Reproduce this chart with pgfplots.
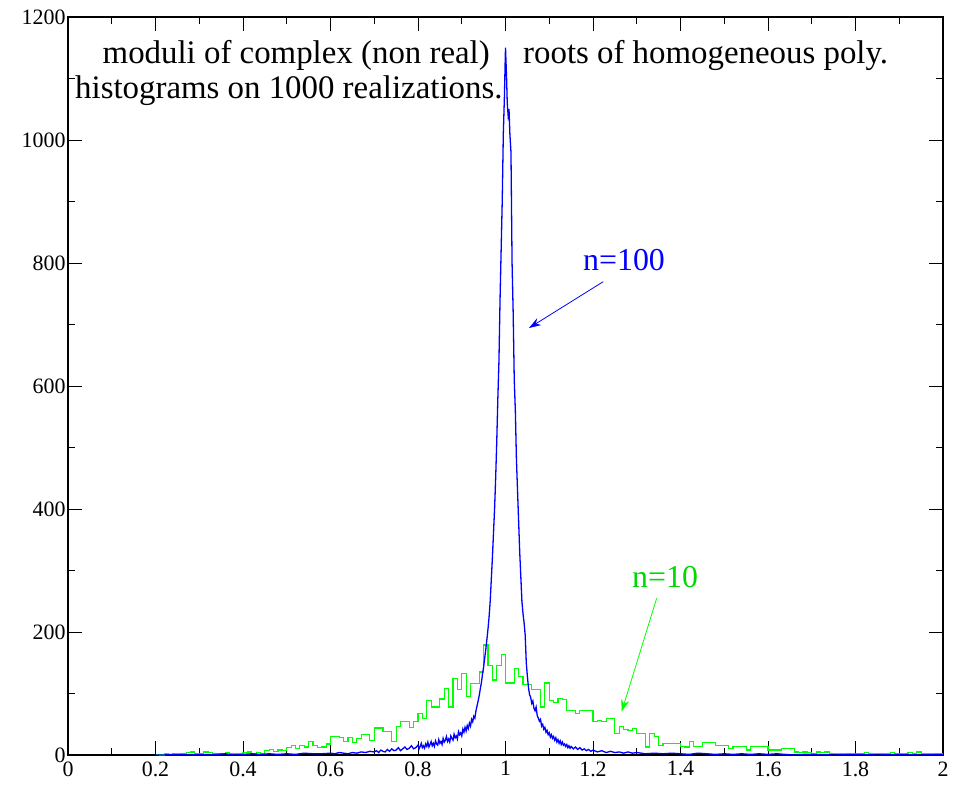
\documentclass[border=0pt]{standalone}
\usepackage{fontspec}
\setmainfont{Liberation Serif}
\usepackage{pgfplots}
\pgfplotsset{compat=1.18}
\usetikzlibrary{arrows.meta,calc}
\definecolor{grn}{rgb}{0,1,0}
\definecolor{grntxt}{rgb}{0,0.85,0}
\begin{document}
\begin{tikzpicture}
\begin{axis}[
  scale only axis, width=875bp, height=738bp,
  xmin=0, xmax=2, ymin=0, ymax=1200,
  xtick={0,0.2,...,2.01}, ytick={0,200,...,1200},
  minor x tick num=1, minor y tick num=1,
  tick align=inside,
  major tick length=14bp, minor tick length=7bp,
  axis line style={line width=1.4bp},
  every tick/.style={black, line width=0.8bp},
  /pgf/number format/assume math mode=true,
  /pgf/number format/1000 sep={},
  xticklabel={\pgfmathprintnumber{\tick}},
  yticklabel={\pgfmathprintnumber{\tick}},
  tick label style={font=\fontsize{22}{22}\selectfont},
  xticklabel style={yshift=-3bp},
  yticklabel style={xshift=1bp},
]
\addplot[grn, line width=1.2bp, const plot mark left] coordinates {
(0.20,1)(0.21,0)(0.22,2)(0.23,1)(0.24,2)(0.25,3)(0.26,2)(0.27,4)(0.28,5)(0.29,3)
(0.30,2)(0.31,5)(0.32,4)(0.33,3)(0.34,3)(0.35,2)(0.36,4)(0.37,3)(0.38,2)(0.39,3)
(0.40,4)(0.41,5)(0.42,3)(0.43,4)(0.44,3)(0.45,7)(0.46,9)(0.47,6)(0.48,8)(0.49,7)
(0.50,12)(0.51,16)(0.52,10)(0.53,16)(0.54,13)(0.55,22)(0.56,15)(0.57,12)(0.58,13)(0.59,18)
(0.60,30)(0.61,30)(0.62,28)(0.63,22)(0.64,28)(0.65,20)(0.66,27)(0.67,33)(0.68,33)(0.69,24)
(0.70,44)(0.71,44)(0.72,38)(0.73,38)(0.74,22)(0.75,46)(0.76,54)(0.77,54)(0.78,45)(0.79,55)
(0.80,68)(0.81,60)(0.82,89)(0.83,78)(0.84,78)(0.85,91)(0.86,108)(0.87,78)(0.88,125)(0.89,106)
(0.90,133)(0.91,95)(0.92,116)(0.93,116)(0.94,135)(0.95,179)(0.96,145)(0.97,122)(0.98,146)(0.99,163)
(1.00,117)(1.01,117)(1.02,141)(1.03,127)(1.04,114)(1.05,114)(1.06,106)(1.07,106)(1.08,78)(1.09,117)
(1.10,89)(1.11,86)(1.12,92)(1.13,90)(1.14,73)(1.15,73)(1.16,67)(1.17,73)(1.18,73)(1.19,73)
(1.20,54)(1.21,56)(1.22,54)(1.23,60)(1.24,60)(1.25,35)(1.26,46)(1.27,41)(1.28,40)(1.29,43)
(1.30,35)(1.31,35)(1.32,13)(1.33,35)(1.34,30)(1.35,16)(1.36,19)(1.37,19)(1.38,19)(1.39,19)
(1.40,14)(1.41,13)(1.42,22)(1.43,14)(1.44,14)(1.45,20)(1.46,20)(1.47,20)(1.48,16)(1.49,16)
(1.50,16)(1.51,11)(1.52,14)(1.53,14)(1.54,14)(1.55,8)(1.56,14)(1.57,14)(1.58,14)(1.59,14)
(1.60,8)(1.61,8)(1.62,8)(1.63,11)(1.64,11)(1.65,11)(1.66,5)(1.67,4)(1.68,5)(1.69,4)
(1.70,3)(1.71,5)(1.72,4)(1.73,5)(1.74,3)(1.75,2)(1.76,3)(1.77,2)(1.78,3)(1.79,2)
(1.80,3)(1.81,2)(1.82,4)(1.83,3)(1.84,2)(1.85,2)(1.86,3)(1.87,2)(1.88,4)(1.89,3)
(1.90,2)(1.91,3)(1.92,4)(1.93,3)(1.94,5)(1.95,2)(1.96,2)(1.97,3)(1.98,2)(1.99,3)(2.00,3)
};
\addplot[blue, line width=1.3bp] coordinates {
(0.20,0)(0.22,0)(0.24,1)(0.25,0)(0.26,1)(0.28,0)(0.30,1)(0.32,0)(0.34,1)(0.36,2)
(0.38,0)(0.40,1)(0.42,2)(0.44,1)(0.46,2)(0.48,1)(0.50,2)(0.52,1)(0.54,3)(0.56,2)
(0.58,2)(0.60,3)(0.61,2)(0.62,4)(0.63,3)(0.64,2)(0.65,4)(0.66,3)(0.67,5)(0.68,4)(0.69,6)
(0.700,5)(0.705,7)(0.710,4)(0.715,8)(0.720,6)(0.725,5)(0.730,9)(0.735,6)(0.740,10)(0.745,7)
(0.750,8)(0.755,12)(0.760,7)(0.765,10)(0.770,13)(0.775,9)(0.780,11)(0.785,15)(0.790,10)(0.795,12)
(0.800,16)(0.8025,10)(0.805,14)(0.8075,19)(0.810,12)(0.8125,15)(0.815,11)(0.8175,18)(0.820,14)
(0.8225,21)(0.825,13)(0.8275,17)(0.830,22)(0.8325,15)(0.835,19)(0.8375,14)(0.840,23)(0.8425,18)
(0.845,16)(0.8475,25)(0.850,19)(0.8525,22)(0.855,17)(0.8575,27)(0.860,21)(0.8625,24)(0.865,30)
(0.8675,22)(0.870,26)(0.8725,21)(0.875,31)(0.8775,27)(0.880,24)(0.8825,34)(0.885,28)(0.8875,31)
(0.890,26)(0.8925,38)(0.895,33)(0.8975,36)(0.900,31)(0.9025,42)(0.905,37)(0.9075,45)(0.910,39)
(0.9125,48)(0.915,43)(0.9175,52)(0.920,47)(0.9225,58)(0.925,54)(0.9275,63)(0.930,60)(0.9325,72)
(0.935,80)(0.9375,88)(0.940,97)(0.9425,108)(0.945,118)(0.9475,132)(0.950,143)(0.9525,158)
(0.955,172)(0.9575,188)(0.960,205)(0.9625,225)(0.965,250)(0.9675,285)(0.970,320)(0.9725,360)
(0.975,400)(0.9775,450)(0.980,510)(0.9825,580)(0.985,640)(0.9875,740)(0.990,820)(0.9925,900)
(0.995,1010)(0.9975,1070)(0.999,1120)(1.000,1150)(1.001,1130)(1.0025,1100)(1.004,1060)
(1.006,1040)(1.008,1050)(1.010,1010)(1.0125,980)(1.015,800)(1.0175,720)(1.020,610)(1.0225,560)
(1.025,480)(1.0275,430)(1.030,380)(1.0325,330)(1.035,290)(1.0375,250)(1.040,230)(1.0425,215)
(1.045,195)(1.0475,150)(1.050,128)(1.0525,110)(1.055,98)(1.0575,94)(1.060,84)(1.0625,88)
(1.065,76)(1.0675,72)(1.070,78)(1.0725,64)(1.075,60)(1.0775,55)(1.080,58)(1.0825,47)(1.085,50)
(1.0875,42)(1.090,45)(1.0925,37)(1.095,40)(1.0975,33)(1.100,36)(1.1025,29)(1.105,33)(1.1075,27)
(1.110,30)(1.1125,24)(1.115,28)(1.1175,21)(1.120,25)(1.1225,19)(1.125,23)(1.1275,17)(1.130,21)
(1.1325,16)(1.135,18)(1.1375,14)(1.140,17)(1.1425,12)(1.145,15)(1.1475,11)(1.150,14)(1.155,10)
(1.160,13)(1.165,9)(1.170,12)(1.175,8)(1.180,10)(1.185,7)(1.190,9)(1.195,6)(1.20,8)(1.21,5)(1.22,7)
(1.23,4)(1.24,6)(1.25,4)(1.26,5)(1.27,3)(1.28,5)(1.29,3)(1.30,4)(1.32,2)(1.34,3)(1.36,2)
(1.38,3)(1.40,2)(1.42,1)(1.44,3)(1.46,2)(1.48,1)(1.50,2)(1.52,1)(1.54,2)(1.56,1)(1.58,2)
(1.60,1)(1.62,2)(1.64,1)(1.66,0)(1.68,1)(1.70,1)(1.75,0)(1.80,1)(1.85,0)(1.90,1)(1.95,0)(2.00,1)
};
% annotations
\node[anchor=base east, inner sep=0, font=\fontsize{33}{33}\selectfont] at (axis cs:0.9646,1125) {moduli of complex (non real)};
\node[anchor=base west, inner sep=0, font=\fontsize{33}{33}\selectfont] at (axis cs:1.040,1125) {roots of homogeneous poly.};
\node[anchor=base west, inner sep=0, font=\fontsize{33}{33}\selectfont] at (axis cs:0.016,1067) {histograms on 1000 realizations.};
\node[anchor=base west, inner sep=0, text=blue, font=\fontsize{32}{32}\selectfont] at (axis cs:1.177,787) {n=100};
\node[anchor=base west, inner sep=0, text=grntxt, font=\fontsize{32}{32}\selectfont] at (axis cs:1.289,273) {n=10};
\draw[blue, line width=0.8bp, -{Stealth[length=12bp,width=8bp]}] (axis cs:1.2233,769.6) -- (axis cs:1.0537,694.3);
\draw[grn, line width=0.8bp, -{Stealth[length=12bp,width=8bp]}] (axis cs:1.3455,254.8) -- (axis cs:1.2655,70.4);
\end{axis}
\pgfresetboundingbox
\path ($(current axis.south west)+(-68bp,-30bp)$) rectangle ($(current axis.north east)+(17bp,17bp)$);
\end{tikzpicture}
\end{document}
